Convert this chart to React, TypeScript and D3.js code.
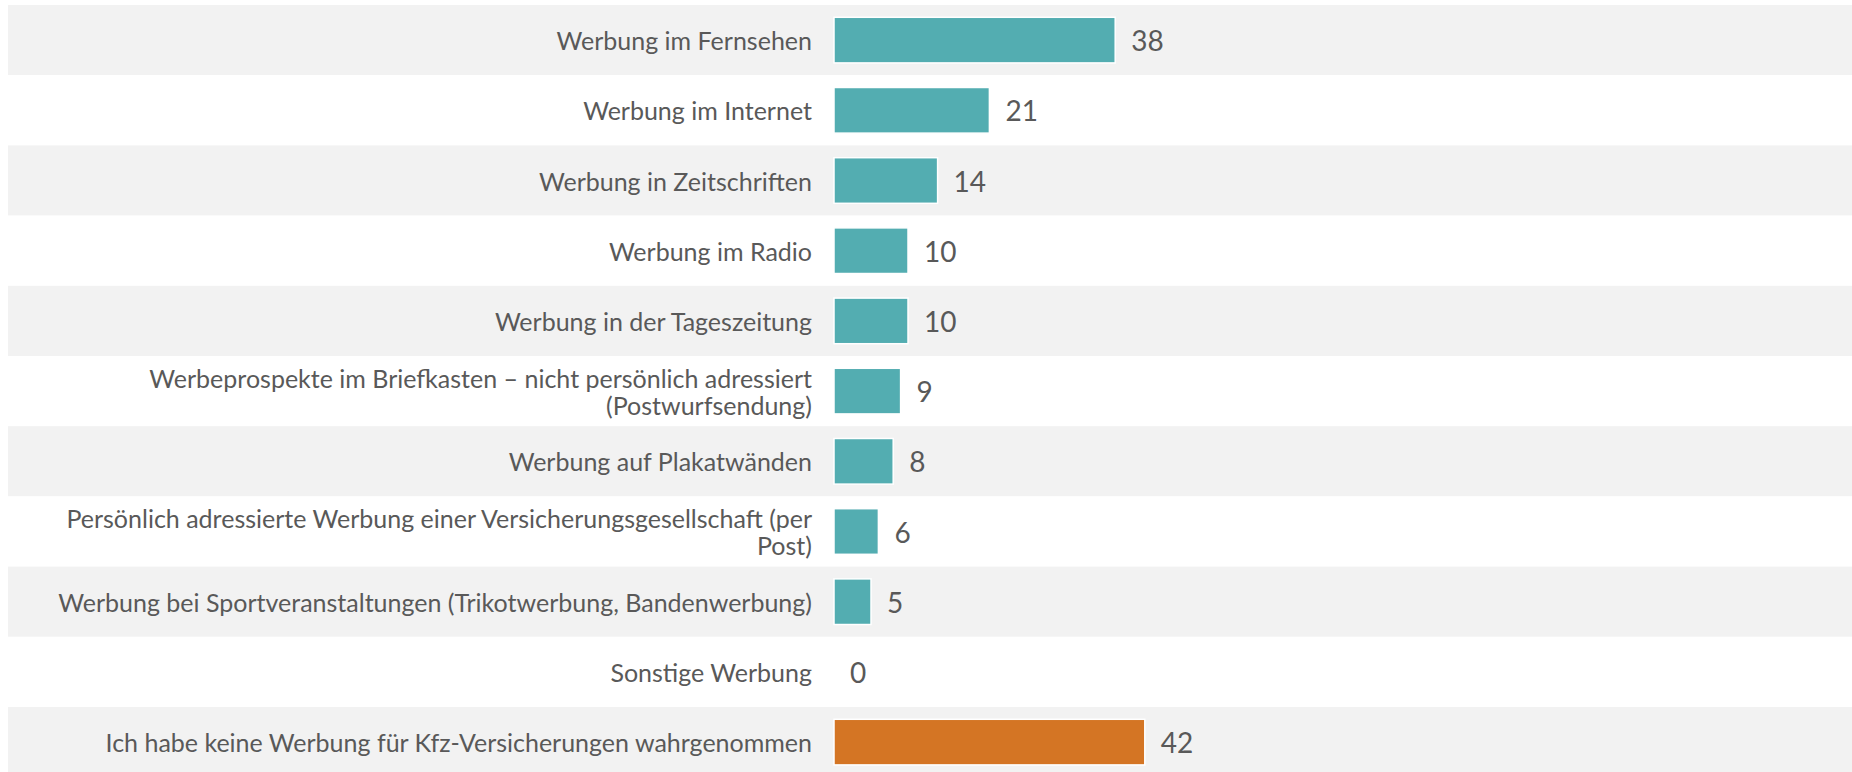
import React from "react";
import * as d3 from "d3";

const categories: string[] = [
  "Werbung im Fernsehen",
  "Werbung im Internet",
  "Werbung in Zeitschriften",
  "Werbung im Radio",
  "Werbung in der Tageszeitung",
  "Werbeprospekte im Briefkasten – nicht persönlich adressiert|(Postwurfsendung)",
  "Werbung auf Plakatwänden",
  "Persönlich adressierte Werbung einer Versicherungsgesellschaft (per|Post)",
  "Werbung bei Sportveranstaltungen (Trikotwerbung, Bandenwerbung)",
  "Sonstige Werbung",
  "Ich habe keine Werbung für Kfz-Versicherungen wahrgenommen",
];

const values: number[] = [38, 21, 14, 10, 10, 9, 8, 6, 5, 0, 42];

const highlight: boolean[] = [false, false, false, false, false, false, false, false, false, false, true];

const W = 1852;
const H = 772;

export default function App() {
  const y = d3
    .scaleBand<string>()
    .domain(categories)
    .range([5, 5 + categories.length * 70.2])
    .padding(0);
  const x = d3.scaleLinear().domain([0, 42]).range([834, 834 + 42 * 7.4]);
  const bw = y.bandwidth();
  const labelFont = "Lato, 'Open Sans', sans-serif";

  return (
    <svg
      width={W}
      height={H}
      style={{ position: "absolute", left: 0, top: 0, display: "block" }}
    >
      <rect x={0} y={0} width={W} height={H} fill="#ffffff" />
      {categories.map((c, i) => {
        const y0 = y(c) as number;
        const cy = y0 + bw / 2;
        const lines = c.split("|");
        const v = values[i];
        return (
          <g key={c}>
            <rect
              x={8}
              y={y0}
              width={W - 8}
              height={bw}
              fill={i % 2 === 0 ? "#f2f2f2" : "#ffffff"}
            />
            <text
              x={812}
              textAnchor="end"
              fontFamily={labelFont}
              fontSize={25}
              fill="#595959"
            >
              {lines.map((l, k) => (
                <tspan
                  key={k}
                  x={812}
                  y={cy + (k - (lines.length - 1) / 2) * 27}
                  dominantBaseline="central"
                >
                  {l}
                </tspan>
              ))}
            </text>
            {v > 0 && (
              <rect
                x={x(0)}
                y={y0 + bw * 0.175}
                width={x(v) - x(0)}
                height={bw * 0.65}
                fill={highlight[i] ? "#d47524" : "#53adb1"}
                stroke="#ffffff"
                strokeWidth={1.5}
              />
            )}
            <text
              x={x(v) + 16}
              y={cy}
              dominantBaseline="central"
              fontFamily={labelFont}
              fontSize={28}
              fill="#595959"
            >
              {v}
            </text>
          </g>
        );
      })}
    </svg>
  );
}
